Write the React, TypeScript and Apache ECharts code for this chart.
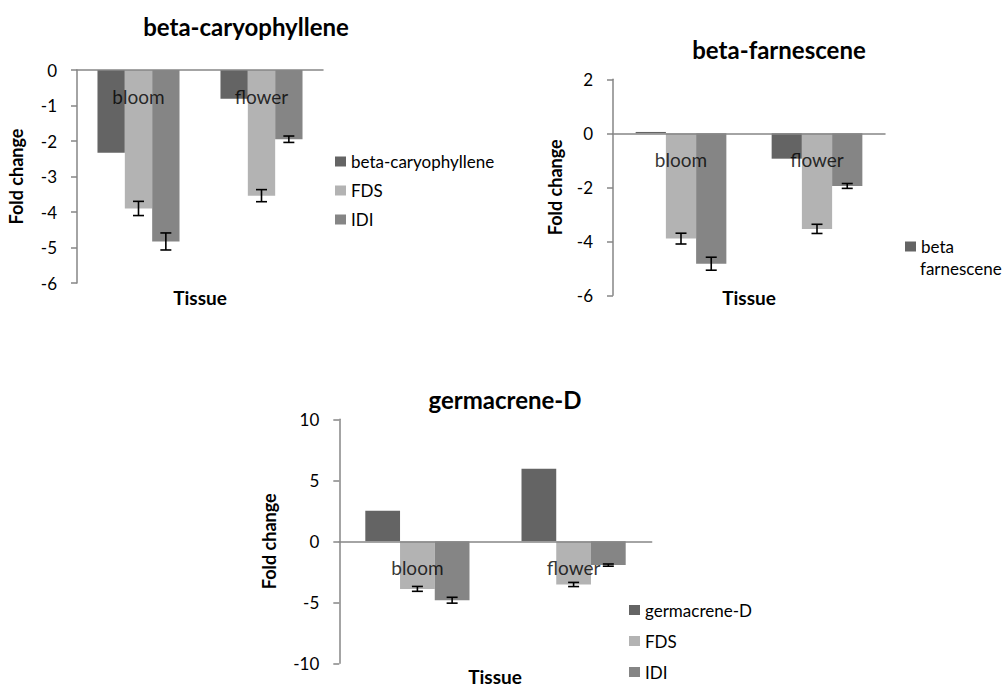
import React, { useEffect, useRef } from "react";
import * as echarts from "echarts";

const categories = ["bloom", "flower"];
const caryophyllene = [-2.33, -0.81];
const farnescene = [0.05, -0.94];
const germacrene = [2.5, 5.95];
const fds = [-3.9, -3.54];
const fdsErr = [0.2, 0.17];
const idi = [-4.83, -1.95];
const idiErr = [0.24, 0.09];

const yTicks1 = { min: -6, max: 0, interval: 1 };
const yTicks2 = { min: -6, max: 2, interval: 2 };
const yTicks3 = { min: -10, max: 10, interval: 5 };

const DARK = "#646464";
const LIGHT = "#b3b3b3";
const MID = "#858585";
const AXIS = "#868686";
const FONT = "Lato";
const GAP = 0.333;

function makeErr(g: number, values: number[], errs: number[], slot: number) {
  return {
    type: "custom",
    name: "err" + g + slot,
    xAxisIndex: g,
    yAxisIndex: g,
    z: 10,
    data: values.map((v, i) => [i, v - errs[i], v + errs[i]]),
    renderItem: (params: any, api: any) => {
      const x = api.value(0);
      const lo = api.coord([x, api.value(1)]);
      const hi = api.coord([x, api.value(2)]);
      const band = api.size([1, 0])[0];
      const bw = (band * (1 - GAP)) / 3;
      const cx = lo[0] + (slot - 1) * bw;
      const h = 5.5;
      const st = { stroke: "#000", lineWidth: 1.6 };
      return {
        type: "group",
        children: [
          { type: "line", shape: { x1: cx, y1: hi[1], x2: cx, y2: lo[1] }, style: st },
          { type: "line", shape: { x1: cx - h, y1: hi[1], x2: cx + h, y2: hi[1] }, style: st },
          { type: "line", shape: { x1: cx - h, y1: lo[1], x2: cx + h, y2: lo[1] }, style: st },
        ],
      };
    },
  };
}

function catLabels(g: number) {
  return {
    type: "scatter",
    name: "labels" + g,
    xAxisIndex: g,
    yAxisIndex: g,
    z: 8,
    symbolSize: 1,
    itemStyle: { color: "rgba(0,0,0,0)" },
    silent: true,
    data: categories.map((c) => [c, 0]),
    label: {
      show: true,
      position: "bottom",
      distance: 16,
      fontSize: 19,
      color: "#000",
      fontFamily: FONT,
      formatter: (p: any) => p.value[0],
    },
  };
}

function xAxis(g: number) {
  return {
    type: "category",
    gridIndex: g,
    data: categories,
    z: 5,
    axisLine: { onZero: true, lineStyle: { color: AXIS, width: 1.5 } },
    axisTick: { show: false },
    axisLabel: { show: false },
  };
}

function yAxis(g: number, t: any, gap: number) {
  return {
    type: "value",
    gridIndex: g,
    min: t.min,
    max: t.max,
    interval: t.interval,
    name: "Fold change",
    nameLocation: "middle",
    nameRotate: 90,
    nameGap: gap,
    nameTextStyle: { fontSize: 18, fontWeight: "bold", color: "#000", fontFamily: FONT },
    axisLine: { show: true, lineStyle: { color: AXIS, width: 1.5 } },
    axisTick: { show: true, length: 6, lineStyle: { color: AXIS, width: 1.5 } },
    axisLabel: { margin: 20, fontSize: 17, color: "#000", fontFamily: FONT },
    splitLine: { show: false },
  };
}

function bar(g: number, name: string, data: number[], color: string) {
  return {
    type: "bar",
    name,
    xAxisIndex: g,
    yAxisIndex: g,
    data,
    barGap: "0%",
    barCategoryGap: "33.3%",
    itemStyle: { color },
  };
}

function txt(text: string, x: number, y: number, size: number, bold: boolean) {
  return {
    type: "text",
    x,
    y,
    z: 100,
    style: {
      text,
      fontSize: size,
      fontWeight: bold ? "bold" : "normal",
      fontFamily: FONT,
      fill: "#000",
      align: "center",
      verticalAlign: "middle",
    },
  };
}

export default function App() {
  const ref = useRef<HTMLDivElement>(null);
  useEffect(() => {
    document.body.style.margin = "0";
    const chart = echarts.init(ref.current!, null, { renderer: "svg" });
    const legendText = { fontSize: 17, color: "#000", fontFamily: FONT };
    const legendBase = {
      orient: "vertical",
      itemWidth: 11,
      itemHeight: 10,
      icon: "rect",
      padding: 0,
      height: 120,
      textStyle: legendText,
      selectedMode: false,
    };
    chart.setOption({
      animation: false,
      grid: [
        { left: 77, top: 70, width: 246, height: 213 },
        { left: 613, top: 79.3, width: 272, height: 216 },
        { left: 339.3, top: 419.3, width: 312.4, height: 244 },
      ],
      xAxis: [xAxis(0), xAxis(1), xAxis(2)],
      yAxis: [yAxis(0, yTicks1, 52), yAxis(1, yTicks2, 49), yAxis(2, yTicks3, 61)],
      legend: [
        {
          ...legendBase,
          data: ["beta-caryophyllene", "FDS", "IDI"],
          left: 335,
          top: 153,
          itemGap: 12,
        },
        {
          ...legendBase,
          data: ["beta farnescene"],
          left: 905,
          top: 238,
          formatter: () => "beta",
        },
        {
          ...legendBase,
          data: ["germacrene-D", "FDS", "IDI"],
          left: 629,
          top: 601.5,
          itemGap: 14,
        },
      ],
      series: [
        bar(0, "beta-caryophyllene", caryophyllene, DARK),
        bar(0, "FDS", fds, LIGHT),
        bar(0, "IDI", idi, MID),
        makeErr(0, fds, fdsErr, 1),
        makeErr(0, idi, idiErr, 2),
        catLabels(0),
        bar(1, "beta farnescene", farnescene, DARK),
        bar(1, "FDS", fds, LIGHT),
        bar(1, "IDI", idi, MID),
        makeErr(1, fds, fdsErr, 1),
        makeErr(1, idi, idiErr, 2),
        catLabels(1),
        bar(2, "germacrene-D", germacrene, DARK),
        bar(2, "FDS", fds, LIGHT),
        bar(2, "IDI", idi, MID),
        makeErr(2, fds, fdsErr, 1),
        makeErr(2, idi, idiErr, 2),
        catLabels(2),
      ],
      graphic: [
        txt("beta-caryophyllene", 246, 26, 24, true),
        txt("beta-farnescene", 779, 49, 24, true),
        txt("germacrene-D", 505, 399, 24, true),
        txt("Tissue", 200, 297.5, 19, true),
        txt("Tissue", 749, 297, 19, true),
        txt("Tissue", 495, 676, 19, true),
        {
          type: "text",
          x: 920,
          y: 268.3,
          style: {
            text: "farnescene",
            fontSize: 17,
            fontFamily: FONT,
            fill: "#000",
            align: "left",
            verticalAlign: "middle",
          },
        },
      ],
    });
    return () => chart.dispose();
  }, []);
  return <div ref={ref} style={{ width: 1003, height: 688 }} />;
}
